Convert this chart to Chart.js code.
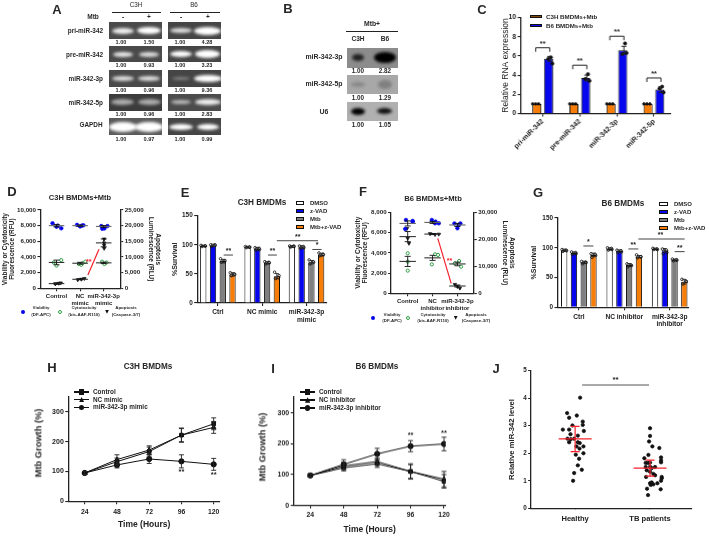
<!DOCTYPE html>
<html><head><meta charset="utf-8">
<script src="https://cdn.jsdelivr.net/npm/chart.js@4/dist/chart.umd.js"></script>
<style>
html,body{margin:0;padding:0;background:#fff}
#root{position:relative;width:709px;height:536px;overflow:hidden;background:#fff;filter:blur(0.42px)}
canvas{position:absolute}
.t{position:absolute;white-space:nowrap;line-height:1;font-family:"Liberation Sans",Arial,sans-serif;color:#222;opacity:.98;will-change:transform}
.gel{position:absolute;overflow:hidden}
.band{position:absolute;border-radius:50%;filter:blur(1.6px)}
.sw{position:absolute;box-sizing:border-box;border:1px solid #111}
</style></head><body><div id="root"></div>
<script>
// ---------- data ----------
const gelA_lanes=[122.7,149,180.7,207.7];
const gelA_labels=["pri-miR-342","pre-miR-342","miR-342-3p","miR-342-5p","GAPDH"];
const gelA_values=[["1.00","1.50","1.00","4.28"],["1.00","0.93","1.00","3.23"],["1.00","0.96","1.00","9.36"],["1.00","0.96","1.00","2.83"],["1.00","0.97","1.00","0.99"]];
const gelA_bands=[[[22,6,"#eee"],[24,7,"#fff"],[22,5,"#ddd"],[27,8,"#fff"]],[[20,5,"#e8e8e8"],[20,5,"#ddd"],[22,6,"#fff"],[25,8,"#fff"]],[[22,5,"#ddd"],[22,5,"#ddd"],[18,3,"#888"],[28,7,"#fff"]],[[23,6,"#aaa"],[23,6,"#aaa"],[20,4,"#bbb"],[26,6,"#eee"]],[[28,10,"#fff"],[28,10,"#fff"],[24,6,"#fff"],[22,6,"#fff"]]];
const gelB_labels=["miR-342-3p","miR-342-5p","U6"];
const gelB_values=[["1.00","2.82"],["1.00","1.29"],["1.00","1.05"]];
const gelB_bands=[[[12,7,"#222"],[22,11,"#000"]],[[14,5,"#888"],[14,9,"#808080"]],[[14,7,"#000"],[15,6,"#111"]]];

const C_categories=["pri-miR-342","pre-miR-342","miR-342-3p","miR-342-5p"];
const C_c3h=[1,1,1,1];
const C_b6=[5.7,3.7,6.6,2.5];
const C_b6_err=[0.25,0.3,0.4,0.3];
const C_b6_dots=[[5.85,5.7,5.2],[4.1,3.6,3.4],[7.3,6.2,6.3],[2.8,2.6,2.2]];
const C_brackets=[6.85,5.03,8.05,3.7];
const C_yticks=[0,2,4,6,8,10];

const D_categories=[["Control"],["NC","mimic"],["miR-342-3p","mimic"]];
const D_viability=[[8300,7870,7660,8000],[8100,7900,8000,8050],[7950,7650,7600,7950]];
const D_cyto=[[3600,2900,3300],[3400,3100,3000,3200],[3400,3100,3300]];
const D_apop=[[1400,1600,1700],[2700,2900,3100],[15750,13750,12750,14500]];
const D_means=[[8000,8000,7900],[3300,3200,3250],[600,1150,5800]];
const D_errs=[[150,80,120],[300,120,90],[100,60,500]];
const D_left_ticks=[0,2000,4000,6000,8000,10000];
const D_right_ticks=[0,5000,10000,15000,20000,25000];

const E_categories=[["Ctrl"],["NC mimic"],["miR-342-3p","mimic"]];
const E_dmso=[98,96,97];const E_zvad=[99,93,96];const E_mtb=[72,69,70];const E_both=[49,46,83];
const E_errs=[[1.5,1.5,1.5],[2,2.5,2.5],[3,2,3],[3,4.5,2.5]];
const E_dots=[[[99,98,97,98],[97,96,95,96],[98,97,96,98]],[[100,99,97,100],[95,92,91,94],[98,95,94,97]],[[76,73,70,71],[71,69,67,70],[74,70,67,71]],[[52,49,47,50],[53,47,42,44],[86,83,81,84]]];
const surv_ticks=[0,50,100,150];

const F_categories=[["Control"],["NC","inhibitor"],["miR-342-3p","inhibitor"]];
const F_viability=[[7243,7144,7078,6354],[7243,7078,6913,6913],[6900,6900,6420,6750]];
const F_cyto=[[3950,2240,3130],[3786,3850,2860],[3190,2960,2630]];
const F_apop=[[20370,18500,24000],[22100,21750,21900],[3300,2500,1900]];
const F_means=[[6900,7000,6750],[3150,3500,2900],[5600,5850,720]];
const F_errs=[[250,100,150],[500,250,180],[500,50,100]];
const F_left_ticks=[0,2000,4000,6000,8000];
const F_right_ticks=[0,10000,20000,30000];

const G_categories=[["Ctrl"],["NC inhibitor"],["miR-342-3p","inhibitor"]];
const G_dmso=[95.7,98,98];const G_zvad=[91,94.5,95.7];const G_mtb=[75.5,71,79.5];const G_both=[88,85,43];
const G_errs=[[2,2,1.5],[2,2,3],[2,2.5,1.5],[3,2,4]];
const G_dots=[[[97,95,94,96],[100,97,96,99],[99,97,97,98]],[[93,90,89,92],[96,93,92,95],[98,92,90,96]],[[77,75,73,76],[73,70,68,71],[81,79,78,80]],[[90,87,84,89],[88,85,83,85],[47,43,39,44]]];

const time_hours=[24,48,72,96,120];
const growth_ticks=[0,100,200,300];
const H_control=[95,133,167,222,260];const H_nc=[95,140,172,222,248];const H_mir=[95,122,142,134,124];
const H_control_err=[5,12,15,22,20];const H_nc_err=[5,16,14,24,20];const H_mir_err=[5,10,15,22,20];
const I_control=[97,122,135,110,78];const I_nc=[97,128,142,110,85];const I_mir=[97,133,167,192,199];
const I_control_err=[5,10,12,25,22];const I_nc_err=[5,12,12,22,25];const I_mir_err=[5,15,18,18,22];

const J_categories=["Healthy","TB patients"];
const J_healthy=[4.02,3.46,3.37,3.29,3.15,3.03,3.01,2.86,2.86,2.81,2.69,2.64,2.53,2.53,2.51,2.40,2.40,2.37,2.25,2.25,2.17,1.95,2.00,1.80,1.56,1.40,1.28,1.00];
const J_healthy_x=[.067,-.107,.022,-.08,.102,.102,-.036,-.164,-.08,.116,-.062,.036,-.102,-.013,-.058,-.08,.036,.062,.018,.111,.058,.009,.111,.053,.036,.089,-.013,-.027];
const J_tb=[2.91,2.63,2.43,2.25,2.19,1.94,1.82,1.85,1.74,1.66,1.65,1.67,1.65,1.50,1.51,1.50,1.46,1.38,1.33,1.25,1.14,1.20,1.14,1.09,1.00,.94,.91,.87,.91,.71,.69,.48,.85];
const J_tb_x=[0,0,-.013,.031,.124,-.022,-.076,.147,.147,0,-.058,.147,-.027,-.058,0,.067,.022,-.044,0,.044,-.053,.067,.156,.156,.147,.022,0,.044,.098,-.04,.142,-.027,.009];
const J_means=[2.52,1.46];const J_errs=[0.46,0.29];const J_ticks=[0,1,2,3,4,5];

// ---------- helpers ----------
const root=document.getElementById('root');
const FF='"Liberation Sans",Arial,sans-serif', INK='#222';
const ORANGE='#f67d08',BLUE='#0505ee',GRAY='#7f7f7f',GREEN='#2f9e44',RED='#f5222d';
Chart.defaults.font.family=FF;Chart.defaults.color=INK;
function T(s,x,y,o={}){const d=document.createElement('div');d.className='t';d.textContent=s;
 const a=o.a||'c';const tx=a==='c'?'-50%':a==='r'?'-100%':'0';
 d.style.cssText=`left:${x}px;top:${y}px;font-size:${o.s||6.5}px;font-weight:${o.n?400:700};transform:translate(${tx},-50%)${o.rot?` rotate(${o.rot}deg)`:''};${o.c?`color:${o.c};`:''}${o.ls?`letter-spacing:${o.ls}px;`:''}`;
 root.appendChild(d);return d;}
function box(cls,x0,y0,x1,y1,css=''){const d=document.createElement('div');d.className=cls;d.style.cssText=`left:${x0}px;top:${y0}px;width:${x1-x0}px;height:${y1-y0}px;${css}`;root.appendChild(d);return d;}
function rule(x0,x1,y,h=1.2){box('gel',x0,y-h/2,x1,y+h/2,`background:${INK}`);}
function gel(x0,x1,y0,y1,bg,lanes,bands){const g=box('gel',x0,y0,x1,y1,`background:${bg}`);
 lanes.forEach((cx,i)=>{const [w,h,c]=bands[i];const b=document.createElement('div');b.className='band';
  b.style.cssText=`left:${cx-x0-w/2}px;top:${(y1-y0)/2-h/2}px;width:${w}px;height:${h}px;background:${c}`;g.appendChild(b);});}
function pts(ys,xs,off=0){return ys.map((y,i)=>({x:(Array.isArray(xs)?xs[i]:xs)+off,y}));}
function marksPlugin(m){return{id:'marks',afterDatasetsDraw(ch){const c=ch.ctx,X=ch.scales.x;c.save();
 const Y=a=>ch.scales[a||'y'];c.lineCap='butt';
 (m.hl||[]).forEach(h=>{c.strokeStyle=h.c||INK;c.lineWidth=h.w||1.2;const y=Y(h.axis).getPixelForValue(h.y);c.beginPath();c.moveTo(X.getPixelForValue(h.x0),y);c.lineTo(X.getPixelForValue(h.x1),y);c.stroke();});
 (m.err||[]).forEach(e=>{c.strokeStyle=e.c||INK;c.lineWidth=e.w||1;const s=Y(e.axis),x=X.getPixelForValue(e.x),a=s.getPixelForValue(e.y-e.e),b=s.getPixelForValue(e.y+e.e),k=e.cap==null?2.5:e.cap;c.beginPath();c.moveTo(x,a);c.lineTo(x,b);c.moveTo(x-k,a);c.lineTo(x+k,a);c.moveTo(x-k,b);c.lineTo(x+k,b);c.stroke();});
 (m.br||[]).forEach(b=>{c.strokeStyle=INK;c.lineWidth=1;const y=Y().getPixelForValue(b.y),d=b.drop||4;c.beginPath();c.moveTo(X.getPixelForValue(b.x0),y+d);c.lineTo(X.getPixelForValue(b.x0),y);c.lineTo(X.getPixelForValue(b.x1),y);c.lineTo(X.getPixelForValue(b.x1),y+d);c.stroke();});
 (m.txt||[]).forEach(t=>{c.fillStyle=t.c||INK;c.font=`bold ${t.s||8}px ${FF}`;c.textAlign='center';c.textBaseline='middle';c.fillText(t.t,X.getPixelForValue(t.x),Y().getPixelForValue(t.y)+(t.dy||0));});
 c.restore();}};}
const font=(s,b=true,lh=1.15)=>({size:s,weight:b?'bold':'normal',lineHeight:lh,family:FF});
function axX(c,p,min,max,vals,fmt,o={}){return{type:'linear',position:'bottom',min,max,offset:false,
 afterBuildTicks:s=>{s.ticks=vals.map(v=>({value:v}));},afterFit:s=>{s.height=c.b-p.B;},
 grid:{display:true,offset:false,drawOnChartArea:false,drawTicks:true,tickLength:o.tl==null?3:o.tl,color:INK,lineWidth:1.1},
 border:{display:true,color:INK,width:1.3},
 ticks:{autoSkip:false,font:font(o.s||6.5),color:INK,padding:o.pad==null?1:o.pad,maxRotation:o.rot||0,minRotation:o.rot||0,callback:fmt},
 title:o.title?{display:true,text:o.title,font:font(o.ts||8.5,true,1.1),color:INK,padding:0}:{display:false}};}
function axY(c,p,min,max,vals,o={}){const left=(o.pos||'left')==='left';return{type:'linear',position:o.pos||'left',min,max,
 afterBuildTicks:s=>{s.ticks=vals.map(v=>({value:v}));},afterFit:s=>{s.width=left?p.L-c.l:c.r-p.R;},
 grid:{display:true,drawOnChartArea:false,drawTicks:true,tickLength:3,color:INK,lineWidth:1.1},
 border:{display:true,color:INK,width:1.3},
 ticks:{autoSkip:false,font:font(o.s||6.5),color:INK,padding:o.pad==null?1.5:o.pad,callback:v=>v.toLocaleString('en-US')},
 title:o.title?{display:true,text:o.title,font:font(o.ts||7,o.tb!==false,o.tlh||1),color:INK,padding:0}:{display:false}};}
function make(c,p,datasets,scales,marks={}){const cv=document.createElement('canvas');
 cv.width=c.r-c.l;cv.height=c.b-c.t;cv.style.left=c.l+'px';cv.style.top=c.t+'px';cv.style.width=(c.r-c.l)+'px';cv.style.height=(c.b-c.t)+'px';root.appendChild(cv);
 return new Chart(cv,{type:'bar',data:{datasets},plugins:[marksPlugin(marks)],options:{responsive:false,animation:false,devicePixelRatio:1,
  layout:{autoPadding:false,padding:{left:0,right:scales.y1?0:c.r-p.R,top:p.T-c.t,bottom:0}},
  plugins:{legend:{display:false},tooltip:{enabled:false},title:{display:false}},scales}});}
function barDs(label,vals,color,cp,bp){return{type:'bar',label,data:pts(vals,vals.map((_,i)=>i)),backgroundColor:color,borderColor:'#111',borderWidth:1,categoryPercentage:cp,barPercentage:bp,order:2};}
function dotDs(data,o={}){return{type:'scatter',data,pointStyle:o.ps||'circle',pointRadius:o.r||1.5,pointRotation:o.rot||0,pointBackgroundColor:o.fill||'#111',pointBorderColor:o.bc||'#111',pointBorderWidth:o.bw==null?0.7:o.bw,yAxisID:o.axis||'y',order:0};}
function swatches(x0,x1,ys,tx,labels,cols,s=6){ys.forEach((y,i)=>{box('sw',x0,y-2,x1,y+2,`background:${cols[i]}`);T(labels[i],tx,y,{a:'l',s});});}
function dotKey(kind,x,y){const d=box('gel',x-2,y-2,x+2,y+2,kind==='blue'?`background:${BLUE};border-radius:50%`:kind==='green'?`border:1.1px solid ${GREEN};box-sizing:border-box;border-radius:50%`:`background:#111;clip-path:polygon(0 0,100% 0,50% 100%)`);return d;}
function lineKey(x0,x1,y,kind){box('gel',x0,y-.6,x1,y+.6,'background:#111');const cx=(x0+x1)/2;
 box('gel',cx-2.7,y-2.7,cx+2.7,y+2.7,'background:#111;'+(kind==='sq'?'':kind==='tri'?'clip-path:polygon(50% 0,100% 100%,0 100%)':'border-radius:50%'));}
const ix=a=>a.map((_,i)=>i);

// ---------- panel letters ----------
[["A",57,9],["B",288,8],["C",481.7,9],["D",11.7,191],["E",185,192],["F",362.7,191],["G",538,192],["H",51.7,367],["I",272.7,368],["J",495.7,368]].forEach(([s,x,y])=>T(s,x,y,{s:13}));

// ---------- A ----------
[[22.3,39.3],[46.3,62.3],[70,86.7],[94,110.7],[118.3,135.3]].forEach(([y0,y1],r)=>{
 gel(109,162.3,y0,y1,r===3?'#3c3c3c':r===4?'#5a5a5a':'#4a4a4a',gelA_lanes.slice(0,2),gelA_bands[r].slice(0,2));
 gel(168,221,y0,y1,r===3?'#4c4c4c':'#454545',gelA_lanes.slice(2),gelA_bands[r].slice(2));
 const vy=[43,66.3,90.7,114.7,140.3][r];const xs=[120.7,149,180,207];
 gelA_values[r].forEach((v,i)=>T(v,xs[i],vy,{s:5.6}));
 if(r<4)T(gelA_labels[r],103.3,[30.7,55,79,103][r],{a:'r',s:6.4});else T(gelA_labels[r],90.7,125.3,{s:6.4});
});
T("C3H",136,5,{s:6.3,n:1});T("B6",194.3,5,{s:6.3,n:1});rule(111.7,161,12.7);rule(170,220,12.7);
T("Mtb",92.7,16.7,{s:6.5});gelA_lanes.forEach((x,i)=>T(i%2?"+":"-",x,17,{}));

// ---------- B ----------
[[47.7,67.7],[74.7,94.3],[102,120.7]].forEach(([y0,y1],r)=>{
 gel(346.7,397.7,y0,y1,['#8c8c8c','#a8a8a8','#b0b0b0'][r],[358.3,385],gelB_bands[r]);
 gelB_values[r].forEach((v,i)=>T(v,[358.3,385][i],[71.3,98,125.3][r],{s:6.3}));
 T(gelB_labels[r],324,[57.3,84.3,112.3][r],{s:6.9});
});
T("Mtb+",371.7,24,{s:6.8});rule(345.7,398.3,31.3);T("C3H",358.3,39,{s:6.6});T("B6",385,39,{s:6.6});

// ---------- C ----------
(()=>{const c={l:501.45,t:8,r:680,b:158},p={L:521,T:17.5,R:671,B:113.5};
 const ds=[barDs("C3H BMDMs+Mtb",C_c3h,ORANGE,.635,.77),barDs("B6 BMDMs+Mtb",C_b6,BLUE,.635,.77)];
 C_b6_dots.forEach((d,i)=>ds.push(dotDs(pts(d,[.22,.15,.26].map(o=>i+o).slice(0,3)),{r:1.6})));
 C_c3h.forEach((v,i)=>ds.push(dotDs(pts([v,v,v],[i-.27,i-.19,i-.11]),{r:1.3})));
 make(c,p,ds,{x:axX(c,p,-.595,3.46,ix(C_categories),v=>C_categories[v],{rot:45,s:7,tl:3}),
  y:axY(c,p,0,10,C_yticks,{s:6.8,title:"Relative RNA expression",ts:8.5,tb:false})},
  {err:C_b6.map((y,i)=>({x:i+.19,y,e:C_b6_err[i]})),br:C_brackets.map((y,i)=>({x0:i-.19,x1:i+.19,y})),
   txt:C_brackets.map((y,i)=>({x:i,y,t:"**",dy:-4,s:7.5}))});
 [["C3H BMDMs+Mtb",16.7,'#8a4b10'],["B6 BMDMs+Mtb",25.7,BLUE]].forEach(([s,y,col])=>{box('sw',530,y-1.8,541.7,y+1.8,`background:${col}`);T(s,546,y,{a:'l',s:6.2});});
})();

// ---------- D / F ----------
function viab(c,p,xr,leftMax,rightMax,lt,rt,via,cyt,apo,via_x,cyt_x,apo_x,means,errs,cats,red,redStar){
 const ds=[];
 via.forEach((d,i)=>ds.push(dotDs(pts(d,via_x[i].map(o=>i+o)),{r:1.8,fill:BLUE,bc:BLUE})));
 cyt.forEach((d,i)=>ds.push(dotDs(pts(d,cyt_x[i].map(o=>i+o)),{r:1.6,fill:'#fff',bc:GREEN,bw:1})));
 apo.forEach((d,i)=>ds.push(dotDs(pts(d,apo_x[i].map(o=>i+o)),{r:2,ps:'triangle',rot:180,axis:'y1'})));
 ds.push({type:'scatter',showLine:true,data:red,borderColor:RED,borderWidth:1.2,pointRadius:0,order:0,tension:0});
 const hl=[],err=[];
 means.forEach((m,k)=>m.forEach((y,i)=>{hl.push({x0:i-.33,x1:i+.33,y,c:k===0?'#666':'#333',w:1.1});err.push({x:i,y,e:errs[k][i],cap:3,c:'#111',w:.9});}));
 make(c,p,ds,{x:axX(c,p,xr[0],xr[1],[0,1,2],v=>cats[v],{s:6,tl:3,pad:1.7}),
  y:axY(c,p,0,leftMax,lt,{s:6.2,title:["Viability or Cytotoxicity","Fluorescence (RFU)"],ts:6.5,tlh:1.18,tb:true}),
  y1:axY(c,p,0,rightMax,rt,{pos:'right',s:6.2,title:["Apoptosis","Luminescence (RLU)"],ts:6.5,tlh:1.18,tb:true})},
  {hl,err,txt:[redStar]});
}
viab({l:1.2,t:203,r:162.5,b:312},{L:40.7,T:210,R:120.7,B:288.3},[-.68,2.7],10000,25000,D_left_ticks,D_right_ticks,
 D_viability,D_cyto,D_apop,[[-.17,0,.2,.05],[-.13,0,.07,.14],[-.1,.03,-.06,.16]],[[.2,0,-.12],[.22,-.05,.05,.1],[-.07,.03,.12]],[[-.05,.1,.18],[-.1,.05,.18],[.02,.02,.02,.02]],
 D_means,D_errs,D_categories,[{x:1.33,y:1700},{x:1.8,y:5000}],{x:1.37,y:3300,t:"**",c:RED,s:7});
T("C3H BMDMs+Mtb",80,197.7,{s:7.5});
[["blue",23.3,"Viability","(DF-APC)",41],["green",60.3,"Cytotoxicity","(bis-AAF-R110)",84],["tri",107,"Apoptosis","(Caspase-3/7)",126]].forEach(([k,x,a,b,tx])=>{dotKey(k,x,311.7);T(a,tx,308.3,{s:4.4});T(b,tx,315,{s:4.4});});

viab({l:353.9,t:205,r:516.5,b:316},{L:391,T:212.3,R:474.3,B:293.3},[-.668,2.66],8000,30000,F_left_ticks,F_right_ticks,
 F_viability,F_cyto,F_apop,[[-.07,.2,.2,-.1],[-.03,.12,.25,.1],[-.12,.12,0,.05]],[[0,0,0],[.22,.1,-.03],[.07,-.1,.15]],[[0,.05,-.03],[-.1,.1,.25],[-.1,0,.1]],
 F_means,F_errs,F_categories,[{x:1.21,y:5432},{x:1.75,y:988}],{x:1.68,y:3160,t:"**",c:RED,s:7});
T("B6 BMDMs+Mtb",433,199.3,{s:7.6});
[["blue",373.3,"Viability","(DF-APC)",392.3],["green",408.3,"Cytotoxicity","(bis-AAF-R110)",432.7],["tri",455.7,"Apoptosis","(Caspase-3/7)",475.7]].forEach(([k,x,a,b,tx])=>{dotKey(k,x,317.7);T(a,tx,315,{s:4.4});T(b,tx,320.7,{s:4.4});});

// ---------- E / G ----------
function surv(c,p,xr,cats,series,errs,dots,cp,bp,off,pad,marks){
 const names=["DMSO","z-VAD","Mtb","Mtb+z-VAD"],cols=['#fff',BLUE,GRAY,ORANGE];
 const ds=series.map((s,k)=>barDs(names[k],s,cols[k],cp,bp));
 dots.forEach((g,k)=>g.forEach((d,i)=>ds.push(dotDs(pts(d,[-.05,.05,-.03,.04].map(o=>i+off[k]+o)),{r:1.3,fill:'rgba(255,255,255,0)',bw:.8}))));
 const err=[];series.forEach((s,k)=>s.forEach((y,i)=>err.push({x:i+off[k],y,e:errs[k][i],cap:2,w:.9})));
 make(c,p,ds,{x:axX(c,p,xr[0],xr[1],[0,1,2],v=>cats[v],{s:6.6,tl:3,pad}),
  y:axY(c,p,0,150,surv_ticks,{s:6.4,title:"%Survival",ts:7})},Object.assign({err},marks));
}
surv({l:171.5,t:208,r:336,b:328},{L:196.7,T:215.7,R:326.7,B:303},[-.467,2.455],E_categories,[E_dmso,E_zvad,E_mtb,E_both],E_errs,E_dots,.88,.65,[-.33,-.11,.11,.33],2.4,
 {hl:[{x0:.13,x1:.34,y:82.4,c:'#444',w:1},{x0:1.13,x1:1.33,y:82.4,c:'#444',w:1},{x0:2.13,x1:2.34,y:92,c:'#444',w:1},{x0:1.33,x1:2.26,y:107,c:'#444',w:1}],
  txt:[{x:.24,y:82.4,t:"**",dy:-4,s:7},{x:1.23,y:82.4,t:"**",dy:-4,s:7},{x:2.24,y:92,t:"*",dy:-4,s:7},{x:1.8,y:107,t:"**",dy:-4,s:7}]});
T("C3H BMDMs",261.7,202.7,{s:8.2});
swatches(295.7,304.3,[203.3,211,219,226.7],310.3,["DMSO","z-VAD","Mtb","Mtb+z-VAD"],['#fff',BLUE,GRAY,ORANGE],6);

surv({l:530.8,t:210,r:704,b:334},{L:557.3,T:218,R:688.3,B:307.3},[-.47,2.41],G_categories,[G_dmso,G_zvad,G_mtb,G_both],G_errs,G_dots,.86,.65,[-.32,-.11,.11,.32],2.7,
 {hl:[{x0:.1,x1:.32,y:103,c:'#444',w:1},{x0:1.09,x1:1.31,y:98,c:'#444',w:1},{x0:2.11,x1:2.33,y:93.5,c:'#444',w:1},{x0:1.31,x1:2.33,y:114.7,c:'#444',w:1}],
  txt:[{x:.21,y:103,t:"*",dy:-4,s:7},{x:1.2,y:98,t:"**",dy:-4,s:7},{x:2.22,y:93.5,t:"**",dy:-4,s:7},{x:1.8,y:114.7,t:"**",dy:-4,s:7}]});
T("B6 BMDMs",623.3,204,{s:8.2});
swatches(658.7,668.3,[204,212,220.3,228],674,["DMSO","z-VAD","Mtb","Mtb+z-VAD"],['#fff',BLUE,GRAY,ORANGE],6);

// ---------- H / I ----------
function growth(c,p,xr,yMax,A,B,Cc,errs,stars,pad){
 const ln=(d,ps)=>({type:'scatter',showLine:true,data:pts(d,time_hours),borderColor:'#111',borderWidth:1,tension:0,pointStyle:ps,pointRadius:2.6,pointBackgroundColor:'#111',pointBorderColor:'#111',order:0});
 const err=[];[A,B,Cc].forEach((s,k)=>s.forEach((y,i)=>err.push({x:time_hours[i],y,e:errs[k][i],cap:2.5,w:.9})));
 make(c,p,[ln(A,'rect'),ln(B,'triangle'),ln(Cc,'circle')],{x:axX(c,p,xr[0],xr[1],time_hours,v=>v,{s:6.8,tl:3,pad,title:"Time (Hours)",ts:8.5}),
  y:axY(c,p,0,yMax,growth_ticks,{s:7})},{err,txt:stars});
}
growth({l:50,t:390,r:228,b:529},{L:68.3,T:396.7,R:220,B:501.3},[11.8,124.7],351,H_control,H_nc,H_mir,[H_control_err,H_nc_err,H_mir_err],
 [{x:96,y:97,t:"**",s:7.5},{x:120,y:88,t:"**",s:7.5}],3.7);
T("Mtb Growth (%)",39.3,443.3,{s:9.3,rot:-90});
T("C3H BMDMs",148.3,367.3,{s:8.2});
[["Control",392,'sq'],["NC mimic",399.7,'tri'],["miR-342-3p mimic",407.3,'ci']].forEach(([s,y,k])=>{lineKey(74,89.3,y,k);T(s,93,y,{a:'l',s:6.4});});

growth({l:275,t:390,r:455,b:533.7},{L:293.7,T:396.7,R:445.7,B:505.3},[12.07,121.2],352,I_control,I_nc,I_mir,[I_control_err,I_nc_err,I_mir_err],
 [{x:96,y:227,t:"**",s:7.5},{x:120,y:235,t:"**",s:7.5}],3);
T("Mtb Growth (%)",262.7,446.7,{s:9.3,rot:-90});
T("B6 BMDMs",376.7,367.3,{s:8.2});
[["Control",392,'sq'],["NC inhibitor",400,'tri'],["miR-342-3p inhibitor",408,'ci']].forEach(([s,y,k])=>{lineKey(300,315.3,y,k);T(s,319,y,{a:'l',s:6.4});});

// ---------- J ----------
(()=>{const c={l:507.85,t:364,r:700,b:526},p={L:531,T:370.7,R:691.7,B:508.3};
 const ds=[dotDs(pts(J_healthy,J_healthy_x),{r:1.7}),dotDs(pts(J_tb,J_tb_x.map(o=>1+o)),{r:1.7})];
 make(c,p,ds,{x:axX(c,p,-.587,1.556,[0,1],v=>J_categories[v],{s:7.6,tl:0,pad:6}),
  y:axY(c,p,0,5,J_ticks,{s:6.3,title:"Relative miR-342 level",ts:7.7})},
  {hl:[...J_means.map((y,i)=>({x0:i-.22,x1:i+.22,y,c:RED,w:1.3})),{x0:.093,x1:.987,y:4.48,c:'#555',w:1}],
   err:J_means.map((y,i)=>({x:i,y,e:J_errs[i],cap:4.5,c:RED,w:1.2})),
   txt:[{x:.54,y:4.48,t:"**",dy:-5,s:8}]});
})();
</script></body></html>
